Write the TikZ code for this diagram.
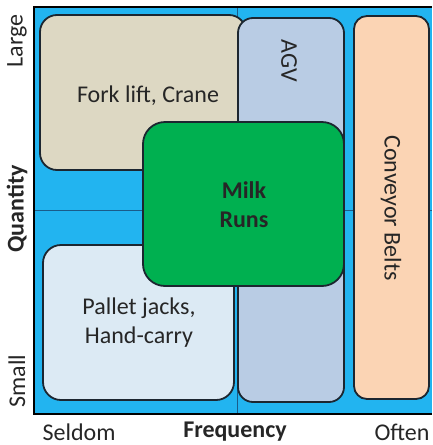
\documentclass[tikz,border=0pt]{standalone}
\usepackage{fontspec}
\setmainfont{Carlito}
\definecolor{bgblue}{HTML}{22B4F0}
\definecolor{gridc}{HTML}{1A5C8A}
\definecolor{edge}{HTML}{1C2630}
\definecolor{tanc}{HTML}{DDD8C3}
\definecolor{agvc}{HTML}{B9CCE4}
\definecolor{milkc}{HTML}{00B050}
\definecolor{palc}{HTML}{DCEAF4}
\definecolor{convc}{HTML}{FBD4B4}
\definecolor{txt}{HTML}{262626}
\begin{document}
\begin{tikzpicture}[x=1pt,y=-1pt,
  box/.style={draw=edge, line width=1.8pt, rectangle, inner sep=0pt},
  lbl/.style={font=\fontsize{24}{29}\selectfont, text=txt, inner sep=0pt, align=center},
  blbl/.style={lbl, font=\fontsize{24}{29}\selectfont\bfseries}]
\useasboundingbox (0,0) rectangle (432,445);
% background field
\fill[bgblue] (34,7) rectangle (432,414);
\coordinate (vt) at (237,7);
\coordinate (vb) at (237,414);
\coordinate (hl) at (34,210);
\coordinate (hr) at (432,210);
\draw[gridc, line width=0.8pt] (vt) -- (vb);
\draw[gridc, line width=0.8pt] (hl) -- (hr);
\coordinate (ctr) at (432,7);
\coordinate (ctl) at (34,7);
\coordinate (cbl) at (34,414);
\coordinate (cbr) at (432,414);
\draw[black, line width=2pt] (ctr) -- (ctl) -- (cbl) -- (cbr);
% boxes
\node[box, fill=tanc, rounded corners=17pt, minimum width=206pt, minimum height=155pt] (fork) at (143,92.5) {};
\node[box, fill=agvc, rounded corners=15pt, minimum width=106pt, minimum height=384pt] (agv) at (291,210) {};
\node[box, fill=palc, rounded corners=18pt, minimum width=191pt, minimum height=155pt] (pal) at (138.5,322.5) {};
\node[box, fill=milkc, rounded corners=22pt, minimum width=201pt, minimum height=164pt] (milk) at (243.5,204) {};
\node[box, fill=convc, rounded corners=13pt, minimum width=75pt, minimum height=383pt] (conv) at (391.5,207.5) {};
% labels
\node[lbl] (tfork) at (148,96) {Fork lift, Crane};
\node[lbl, rotate=-90] (tagv) at (289,61) {AGV};
\node[blbl] (tmilk) at (244,205) {Milk\\Runs};
\node[lbl, rotate=-90] (tconv) at (391,208) {Conveyor Belts};
\node[lbl] (tpal) at (139,323) {Pallet jacks,\\Hand-carry};
\node[lbl, rotate=90] (tlarge) at (17,41) {Large};
\node[blbl, rotate=90] (tqty) at (17,209) {Quantity};
\node[lbl, rotate=90] (tsmall) at (17,381) {Small};
\node[lbl] (tseldom) at (79,432) {Seldom};
\node[blbl] (tfreq) at (235,432) {Frequency};
\node[lbl] (toften) at (402,432) {Often};
\end{tikzpicture}
\end{document}
